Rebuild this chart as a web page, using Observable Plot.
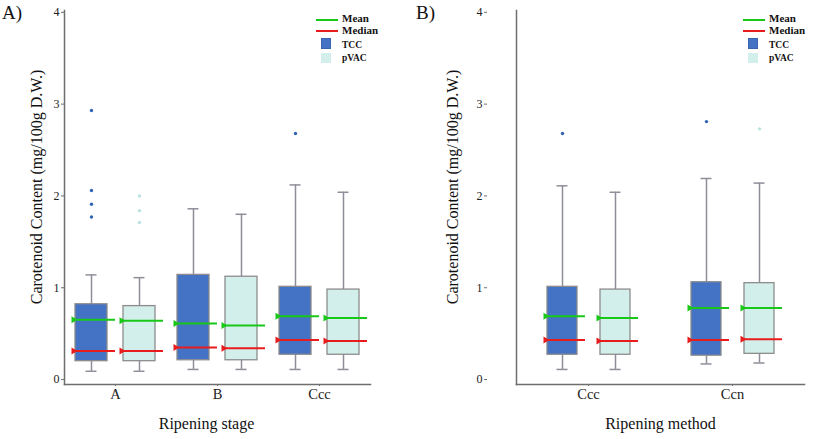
<!DOCTYPE html>
<html>
<head>
<meta charset="utf-8">
<script src="https://cdn.jsdelivr.net/npm/d3@7"></script>
<script src="https://cdn.jsdelivr.net/npm/@observablehq/plot@0.6"></script>
<style>
  html, body { margin: 0; padding: 0; background: #ffffff; }
  #wrap { position: relative; width: 817px; height: 439px; overflow: hidden;
          font-family: "Liberation Serif", "Times New Roman", serif; color: #111; }
  .panel { position: absolute; top: 0; height: 439px; }
  .plabel { position: absolute; font-size: 19px; line-height: 1; color: #111; }
  .ylab { position: absolute; font-size: 16px; line-height: 1; white-space: nowrap; color: #111;
          transform: translate(-50%, -50%) rotate(-90deg); }
  .lg { position: absolute; line-height: 1; white-space: nowrap; color: #111; font-weight: bold; }
  .sw { position: absolute; }
</style>
</head>
<body>
<div id="wrap">
  <div class="panel" id="pA" style="left:0;width:410px"></div>
  <div class="panel" id="pB" style="left:410px;width:407px"></div>
  <div class="plabel" style="left:2px;top:3px">A)</div>
  <div class="plabel" style="left:416px;top:3px">B)</div>
</div>
<script>
// ---------- data ----------
const seriesNames = ["TCC", "pVAC"];
const yTicks = [0, 1, 2, 3, 4];
const yLabel = "Carotenoid Content (mg/100g D.W.)";
const legendLabels = ["Mean", "Median", "TCC", "pVAC"];

// Panel A: ripening stage (order: A-TCC, A-pVAC, B-TCC, B-pVAC, Ccc-TCC, Ccc-pVAC)
const stageCategories = ["A", "B", "Ccc"];
const stageTitle = "Ripening stage";
const stageLow    = [0.09, 0.09, 0.11, 0.11, 0.11, 0.11];
const stageQ1     = [0.20, 0.20, 0.21, 0.21, 0.27, 0.27];
const stageQ3     = [0.82, 0.80, 1.14, 1.12, 1.01, 0.98];
const stageHigh   = [1.14, 1.11, 1.86, 1.80, 2.12, 2.04];
const stageMean   = [0.65, 0.64, 0.61, 0.59, 0.69, 0.67];
const stageMedian = [0.31, 0.31, 0.35, 0.34, 0.43, 0.42];
const stageOutliers = [[2.93, 2.06, 1.91, 1.77], [2.00, 1.84, 1.71], [], [], [2.68], []];

// Panel B: ripening method (order: Ccc-TCC, Ccc-pVAC, Ccn-TCC, Ccn-pVAC)
const methodCategories = ["Ccc", "Ccn"];
const methodTitle = "Ripening method";
const methodLow    = [0.11, 0.11, 0.17, 0.18];
const methodQ1     = [0.27, 0.27, 0.26, 0.28];
const methodQ3     = [1.01, 0.98, 1.06, 1.05];
const methodHigh   = [2.11, 2.04, 2.19, 2.14];
const methodMean   = [0.69, 0.67, 0.78, 0.78];
const methodMedian = [0.43, 0.42, 0.43, 0.44];
const methodOutliers = [[2.68], [], [2.81], [2.73]];

// ---------- styles ----------
const boxFill = ["#4472c4", "#d3efeb"];
const outlierFill = { TCC: "#2f63b8", pVAC: "#b9e4e0" };
const meanColor = "#18c818";
const medianColor = "#e81c1c";
const boxStroke = "#8c8c8c";
const whiskerColor = "#8e8e9a";
const axisColor = "#6e6e6e";

function buildRows(cats, low, q1, q3, high, mean, median) {
  const rows = [];
  cats.forEach((c, i) => seriesNames.forEach((s, j) => {
    const k = i * seriesNames.length + j;
    rows.push({cat: c, series: s, low: low[k], q1: q1[k], q3: q3[k], high: high[k], mean: mean[k], median: median[k]});
  }));
  return rows;
}

function panel(cfg) {
  const rows = buildRows(cfg.cats, cfg.low, cfg.q1, cfg.q3, cfg.high, cfg.mean, cfg.median);
  const outRows = rows.flatMap((r, k) => cfg.outliers[k].map(v => ({cat: r.cat, series: r.series, value: v})));
  const markerDx = -(cfg.boxHalf + 2);
  const axisShift = cfg.marginLeft - cfg.fxRange[0];
  return Plot.plot({
    width: cfg.width, height: 439,
    marginLeft: cfg.marginLeft, marginRight: cfg.marginRight, marginTop: 10, marginBottom: 55,
    style: {fontFamily: "'Liberation Serif', 'Times New Roman', serif", background: "transparent", color: "#222", overflow: "visible"},
    fx: {domain: cfg.cats, range: cfg.fxRange, padding: 0, label: null},
    x: {domain: seriesNames, paddingInner: cfg.padInner, paddingOuter: cfg.padOuter, axis: null},
    y: {domain: [-0.054, 4.02]},
    color: {domain: seriesNames, range: boxFill},
    marks: [
      Plot.frame({anchor: "left", stroke: axisColor, strokeWidth: 1.5, facet: "super"}),
      Plot.frame({anchor: "bottom", stroke: axisColor, strokeWidth: 1.5, facet: "super"}),
      Plot.axisY({ticks: yTicks, tickSize: 3, tickPadding: 2, fontSize: 12, label: null, tickFormat: d => String(d), stroke: axisColor, dx: axisShift}),
      Plot.axisFx({anchor: "bottom", label: null, tickSize: 2, tickPadding: 2, fontSize: 14.5, stroke: axisColor}),
      // whiskers
      Plot.ruleX(rows, {fx: "cat", x: "series", y1: "low", y2: "q1", stroke: whiskerColor, strokeWidth: 1.5}),
      Plot.ruleX(rows, {fx: "cat", x: "series", y1: "q3", y2: "high", stroke: whiskerColor, strokeWidth: 1.5}),
      Plot.tickY(rows, {fx: "cat", x: "series", y: "low", stroke: whiskerColor, strokeWidth: 1.5, inset: cfg.capInset}),
      Plot.tickY(rows, {fx: "cat", x: "series", y: "high", stroke: whiskerColor, strokeWidth: 1.5, inset: cfg.capInset}),
      // boxes
      Plot.barY(rows, {fx: "cat", x: "series", y1: "q1", y2: "q3", fill: "series", stroke: boxStroke, strokeWidth: 1.3}),
      // mean & median
      Plot.tickY(rows, {fx: "cat", x: "series", y: "mean", stroke: meanColor, strokeWidth: 2, insetLeft: -2, insetRight: -8}),
      Plot.tickY(rows, {fx: "cat", x: "series", y: "median", stroke: medianColor, strokeWidth: 2, insetLeft: -2, insetRight: -8}),
      Plot.dot(rows, {fx: "cat", x: "series", y: "mean", symbol: "triangle", rotate: 90, r: 2.6, fill: meanColor, dx: markerDx}),
      Plot.dot(rows, {fx: "cat", x: "series", y: "median", symbol: "triangle", rotate: 90, r: 2.6, fill: medianColor, dx: markerDx}),
      // outliers
      Plot.dot(outRows.filter(d => d.series === "TCC"), {fx: "cat", x: "series", y: "value", r: 1.7, fill: outlierFill.TCC}),
      Plot.dot(outRows.filter(d => d.series === "pVAC"), {fx: "cat", x: "series", y: "value", r: 1.7, fill: outlierFill.pVAC}),
      // x title
      Plot.text([cfg.title], {frameAnchor: "bottom", textAnchor: "middle", dy: 44, dx: cfg.titleDx, fontSize: 16, fill: "#111", facet: "super"})
    ]
  });
}

document.getElementById("pA").appendChild(panel({
  cats: stageCategories, low: stageLow, q1: stageQ1, q3: stageQ3, high: stageHigh,
  mean: stageMean, median: stageMedian, outliers: stageOutliers, title: stageTitle,
  width: 410, marginLeft: 64, marginRight: 18, fxRange: [64, 370],
  padInner: 0.333, padOuter: 0.229, boxHalf: 16, capInset: 10.5, titleDx: -11
}));
document.getElementById("pB").appendChild(panel({
  cats: methodCategories, low: methodLow, q1: methodQ1, q3: methodQ3, high: methodHigh,
  mean: methodMean, median: methodMedian, outliers: methodOutliers, title: methodTitle,
  width: 407, marginLeft: 77, marginRight: 2, fxRange: [106, 394],
  padInner: 0.439, padOuter: 0.565, boxHalf: 15, capInset: 9.5, titleDx: 0
}));

// ---------- y-axis labels & legends (HTML overlays) ----------
const wrap = document.getElementById("wrap");
function add(cls, style, text) {
  const el = document.createElement("div");
  el.className = cls;
  Object.assign(el.style, style);
  if (text) el.textContent = text;
  wrap.appendChild(el);
}
add("ylab", {left: "37px", top: "187px"}, yLabel);
add("ylab", {left: "453px", top: "187px"}, yLabel);

function legend(x0) {
  add("sw", {left: x0 + "px", top: "19px", width: "22px", height: "2px", background: meanColor});
  add("sw", {left: x0 + "px", top: "30px", width: "22px", height: "2px", background: medianColor});
  add("sw", {left: (x0 + 5) + "px", top: "38px", width: "10px", height: "11px", background: boxFill[0], boxSizing: "border-box", border: "1px solid #3a64b0"});
  add("sw", {left: (x0 + 5) + "px", top: "53px", width: "10px", height: "10px", background: boxFill[1]});
  add("lg", {left: (x0 + 26) + "px", top: "13px", fontSize: "11px"}, legendLabels[0]);
  add("lg", {left: (x0 + 26) + "px", top: "24.5px", fontSize: "11px"}, legendLabels[1]);
  add("lg", {left: (x0 + 26) + "px", top: "41px", fontSize: "9.5px"}, legendLabels[2]);
  add("lg", {left: (x0 + 26) + "px", top: "54px", fontSize: "9.5px"}, legendLabels[3]);
}
legend(316);
legend(743);
</script>
</body>
</html>
